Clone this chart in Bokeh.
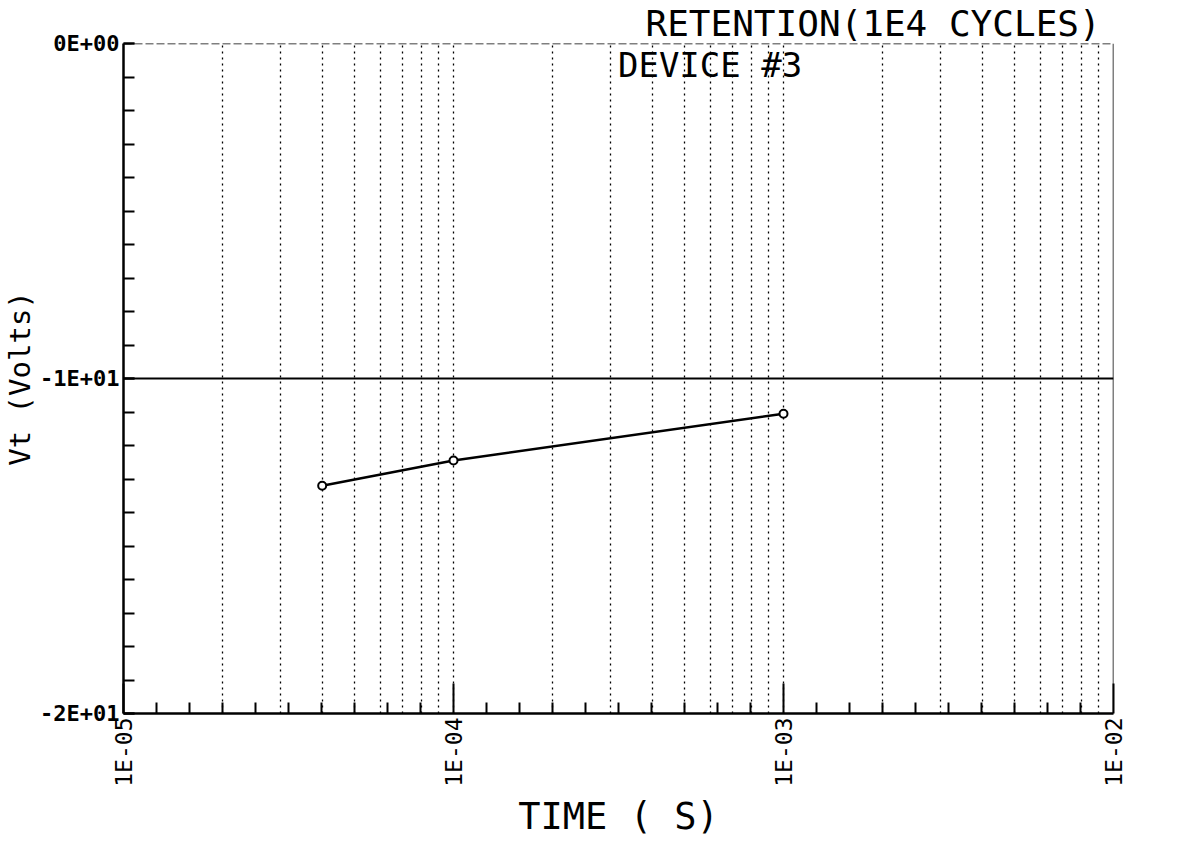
import math
from bokeh.plotting import figure
from bokeh.models import FixedTicker, Span, Label
from bokeh.embed import file_html
from bokeh.resources import INLINE

# ---- data ----
time_s = [4.0e-5, 1.0e-4, 1.0e-3]
vt_volts = [-13.2, -12.45, -11.05]

x_major = [1e-5, 1e-4, 1e-3, 1e-2]
x_major_labels = ["1E-05", "1E-04", "1E-03", "1E-02"]
y_major = [-20, -10, 0]
y_major_labels = ["-2E+01", "-1E+01", "0E+00"]
y_minor = list(range(-20, 1))

title_text = "RETENTION(1E4 CYCLES)"
subtitle_text = "DEVICE #3"
x_title = "TIME ( S)"
y_title = "Vt (Volts)"

decades = [-5, -4, -3]
x_minor = [10 ** (d + k / 10) for d in decades for k in range(1, 10)]
x_grid = [m * 10 ** d for d in decades for m in range(1, 10)] + [1e-2]

FONT = "DejaVu Sans Mono"

p = figure(width=1168, height=840, x_axis_type="log",
           x_range=(1e-5, 1e-2), y_range=(-20, 0),
           output_backend="svg", toolbar_location=None,
           min_border_left=118, min_border_right=55,
           min_border_top=40, min_border_bottom=120,
           outline_line_color=None, background_fill_color="white")

# title (top right, beyond the frame)
p.title.text = title_text
p.title.text_font = FONT
p.title.text_font_size = "36px"
p.title.text_font_style = "normal"
p.title.text_color = "black"
p.title.align = "left"
p.title.offset = 522
p.title.standoff = 0

# x axis
xa = p.xaxis[0]
xa.ticker = FixedTicker(ticks=x_major, minor_ticks=x_minor)
xa.major_label_overrides = {v: s for v, s in zip(x_major, x_major_labels)}
xa.major_label_orientation = math.pi / 2
xa.major_label_text_font = FONT
xa.major_label_text_font_size = "23px"
xa.major_label_text_color = "black"
xa.major_label_standoff = 4
xa.major_tick_in = 30
xa.major_tick_out = 0
xa.minor_tick_in = 11
xa.minor_tick_out = 0
xa.major_tick_line_width = 2
xa.minor_tick_line_width = 2
xa.axis_line_width = 2.5
xa.axis_line_color = "black"
xa.major_tick_line_color = "black"
xa.minor_tick_line_color = "black"
xa.axis_label = x_title
xa.axis_label_text_font = FONT
xa.axis_label_text_font_size = "37px"
xa.axis_label_text_font_style = "normal"
xa.axis_label_text_color = "black"
xa.axis_label_standoff = 5

# y axis
ya = p.yaxis[0]
ya.ticker = FixedTicker(ticks=y_major, minor_ticks=y_minor)
ya.major_label_overrides = {v: s for v, s in zip(y_major, y_major_labels)}
ya.major_label_text_font = FONT
ya.major_label_text_font_size = "22px"
ya.major_label_text_font_style = "bold"
ya.major_label_text_color = "black"
ya.major_label_standoff = 4
ya.major_tick_in = 11
ya.major_tick_out = 0
ya.minor_tick_in = 11
ya.minor_tick_out = 0
ya.major_tick_line_width = 2
ya.minor_tick_line_width = 2
ya.axis_line_width = 2.5
ya.axis_line_color = "black"
ya.major_tick_line_color = "black"
ya.minor_tick_line_color = "black"
ya.axis_label = y_title
ya.axis_label_text_font = FONT
ya.axis_label_text_font_size = "29px"
ya.axis_label_text_font_style = "normal"
ya.axis_label_text_color = "black"
ya.axis_label_standoff = 0

# grids
p.xgrid.ticker = FixedTicker(ticks=x_grid)
p.xgrid.grid_line_color = "black"
p.xgrid.grid_line_dash = "2 4"
p.xgrid.grid_line_width = 1.3
p.ygrid.ticker = FixedTicker(ticks=[-10])
p.ygrid.grid_line_color = "black"
p.ygrid.grid_line_width = 2

# borders (top dashed, right solid)
p.add_layout(Span(location=0, dimension="width", line_color="black",
                  line_width=1.5, line_dash="8 3"))
p.add_layout(Span(location=1e-2, dimension="height", line_color="black",
                  line_width=1.5))

# data
p.line(time_s, vt_volts, line_color="black", line_width=2.5)
p.scatter(time_s, vt_volts, marker="circle", size=8, line_color="black",
          line_width=2, fill_color="white")

# subtitle inside the frame
p.add_layout(Label(x=3.15e-4, y=-0.65, text=subtitle_text, text_font=FONT,
                   text_font_size="34px", text_color="black",
                   text_baseline="alphabetic", text_align="left"))

open("out.html", "w").write(file_html(p, INLINE))
